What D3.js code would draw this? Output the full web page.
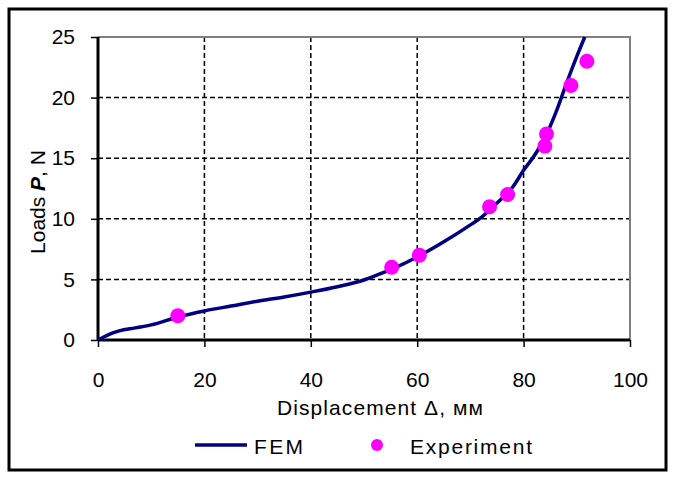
<!DOCTYPE html>
<html>
<head>
<meta charset="utf-8">
<script src="https://cdn.jsdelivr.net/npm/d3@7"></script>
<style>
  body { margin: 0; background: #fff; }
  text { font-family: "Liberation Sans", Arial, sans-serif; fill: #000; }
</style>
</head>
<body>
<svg></svg>
<script>
// FEM curve
var femX = [0, 2, 4, 7, 10, 15, 20, 25, 30, 35, 40, 45, 50, 53, 56, 60, 65, 70, 72, 75, 78, 80, 82, 84, 86, 88, 90, 91.5];
var femY = [0, 0.45, 0.75, 1.0, 1.25, 1.9, 2.4, 2.8, 3.2, 3.55, 3.95, 4.4, 4.95, 5.45, 6.0, 6.85, 8.1, 9.5, 10.1, 11.3, 12.65, 14.0, 15.2, 16.7, 18.7, 21.1, 23.4, 25];
// experiment points
var expX = [15, 55.2, 60.4, 73.6, 77.0, 84.0, 84.3, 88.9, 91.9];
var expY = [2, 6, 7, 11, 12, 16, 17, 21, 23];
var xTicks = [0, 20, 40, 60, 80, 100];
var yTicks = [0, 5, 10, 15, 20, 25];

function drawChart() {
    var width = 674, height = 478;
    var left = 98, right = 630, top = 37, bottom = 340;

    var svg = d3.select("svg")
            .attr("width", width)
            .attr("height", height);

    // outer frame
    svg.append("rect")
            .attr("x", 9).attr("y", 9)
            .attr("width", 657).attr("height", 461)
            .attr("fill", "none")
            .attr("stroke", "#000")
            .attr("stroke-width", 3);

    var x = d3.scaleLinear().domain([0, 100]).range([left, right]);
    var y = d3.scaleLinear().domain([0, 25]).range([bottom, top]);

    // grid
    svg.selectAll("line.vgrid")
            .data(xTicks.slice(1, -1))
            .enter().append("line")
            .attr("x1", function(d) { return x(d); })
            .attr("x2", function(d) { return x(d); })
            .attr("y1", top).attr("y2", bottom)
            .attr("stroke", "#000").attr("stroke-width", 1.5)
            .attr("stroke-dasharray", "5,3");
    svg.selectAll("line.hgrid")
            .data(yTicks.slice(1, -1))
            .enter().append("line")
            .attr("x1", left).attr("x2", right)
            .attr("y1", function(d) { return y(d); })
            .attr("y2", function(d) { return y(d); })
            .attr("stroke", "#000").attr("stroke-width", 1.5)
            .attr("stroke-dasharray", "5,3");

    // gray top and right border of the plot area
    svg.append("path")
            .attr("d", "M" + left + "," + top + "H" + right + "V" + bottom)
            .attr("fill", "none")
            .attr("stroke", "#808080")
            .attr("stroke-width", 2);

    // axes
    var xAxis = svg.append("g")
            .attr("transform", "translate(0," + bottom + ")")
            .call(d3.axisBottom(x).tickValues(xTicks).tickSize(7).tickPadding(25));
    var yAxis = svg.append("g")
            .attr("transform", "translate(" + left + ",0)")
            .call(d3.axisLeft(y).tickValues(yTicks).tickSize(7).tickPadding(16));
    [xAxis, yAxis].forEach(function(g) {
        g.select(".domain").attr("stroke", "#000").attr("stroke-width", 3);
        g.selectAll(".tick line").attr("stroke", "#000").attr("stroke-width", 1.5);
        g.selectAll(".tick text")
                .attr("font-family", "Liberation Sans, Arial, sans-serif")
                .attr("font-size", 21).attr("fill", "#000");
    });
    xAxis.select(".domain").attr("d", "M" + left + ",0H" + right);
    yAxis.select(".domain").attr("d", "M0," + bottom + "V" + top);

    // FEM line
    var fem = femX.map(function(d, i) { return [d, femY[i]]; });
    var line = d3.line()
            .x(function(d) { return x(d[0]); })
            .y(function(d) { return y(d[1]); })
            .curve(d3.curveMonotoneX);
    svg.append("path")
            .datum(fem)
            .attr("d", line)
            .attr("fill", "none")
            .attr("stroke", "#000080")
            .attr("stroke-width", 3.5);

    // experiment points
    svg.selectAll("circle.exp")
            .data(expX)
            .enter().append("circle")
            .attr("cx", function(d) { return x(d); })
            .attr("cy", function(d, i) { return y(expY[i]); })
            .attr("r", 7.5)
            .attr("fill", "#ff00ff");

    // axis titles
    svg.append("text")
            .attr("x", 380).attr("y", 415)
            .attr("text-anchor", "middle")
            .attr("font-size", 21)
            .attr("textLength", 206)
            .attr("lengthAdjust", "spacing")
            .text("Displacement \u0394, \u043c\u043c");

    var yt = svg.append("text")
            .attr("transform", "translate(45,202) rotate(-90)")
            .attr("text-anchor", "middle")
            .attr("font-size", 21);
    yt.append("tspan").text("Loads ");
    yt.append("tspan").attr("font-weight", "bold").attr("font-style", "italic").text("P");
    yt.append("tspan").text(", N");

    // legend
    svg.append("line")
            .attr("x1", 195).attr("x2", 247)
            .attr("y1", 445).attr("y2", 445)
            .attr("stroke", "#000080").attr("stroke-width", 3.5);
    svg.append("text").attr("x", 254).attr("y", 454)
            .attr("font-size", 21)
            .attr("textLength", 49)
            .attr("lengthAdjust", "spacing")
            .text("FEM");
    svg.append("circle")
            .attr("cx", 377).attr("cy", 445).attr("r", 6)
            .attr("fill", "#ff00ff");
    svg.append("text").attr("x", 410).attr("y", 454)
            .attr("font-size", 21)
            .attr("textLength", 122)
            .attr("lengthAdjust", "spacing")
            .text("Experiment");
}

drawChart();
</script>
</body>
</html>
